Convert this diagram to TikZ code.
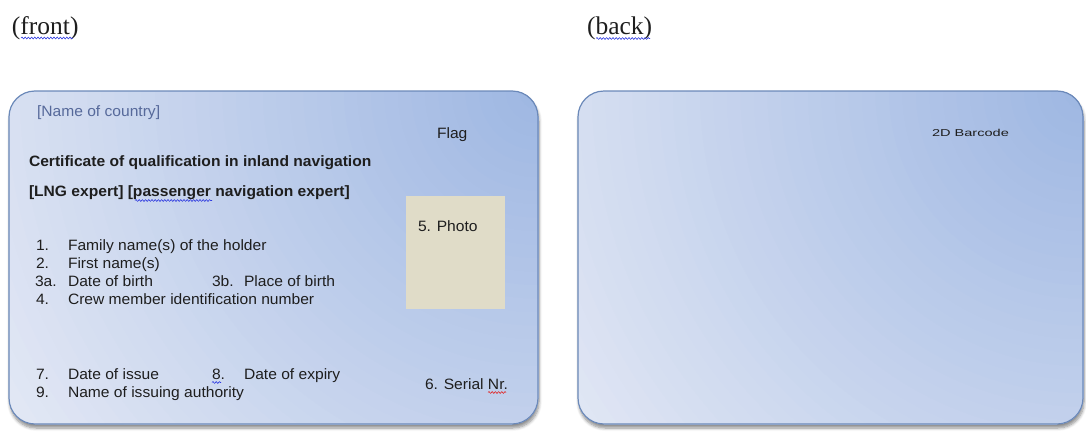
\documentclass[tikz,border=0pt]{standalone}
\usepackage{fontspec}
\usepackage{graphicx}
\setmainfont{Liberation Serif}
\newfontfamily\arial[FakeStretch=1.04]{Liberation Sans}
\usetikzlibrary{shadows.blur,decorations.pathmorphing}
\definecolor{cardborder}{HTML}{6B89B9}
\definecolor{cardin}{HTML}{9DB6E2}
\definecolor{cardout}{HTML}{E4E9F5}
\definecolor{photofill}{HTML}{E0DCC8}
\definecolor{txt}{HTML}{1E1E1E}
\definecolor{country}{HTML}{56699A}
\definecolor{squigblue}{HTML}{2F3BE0}
\definecolor{squigred}{HTML}{E02828}
\begin{document}
\begin{tikzpicture}[x=1pt,y=-1pt,
  every node/.style={inner sep=0pt, outer sep=0pt},
  body/.style={font=\arial\fontsize{15}{18}\selectfont, text=txt, anchor=base west},
  bodyb/.style={font=\arial\bfseries\fontsize{15}{18}\selectfont, text=txt, anchor=base west},
  title/.style={font=\fontsize{25.5}{30}\selectfont, text=txt, anchor=base west},
  squig/.style={decorate, decoration={snake, amplitude=0.9pt, segment length=3.2pt}, line width=0.6pt},
  card/.style={draw=cardborder, line width=1.2pt, rounded corners=26pt,
    minimum height=333pt, anchor=north west,
    blur shadow={shadow xshift=1pt, shadow yshift=-4pt, shadow blur steps=6, shadow blur radius=3pt, shadow opacity=45},
    path picture={
      \foreach \i in {0,...,49} {
        \pgfmathsetmacro\rr{680-13.5*\i}
        \pgfmathsetmacro\mm{max(0,min(100,100*(1-\rr/640)))}
        \fill[cardin!\mm!cardout] (path picture bounding box.north east) circle (\rr pt);
      }}},
]
\useasboundingbox (0,0) rectangle (1086,447);

% titles
\node[title] (fronttitle) at (12,34) {(front)};
\node[title] (backtitle) at (587,34) {(back)};
\draw[squig, squigblue] (21,38) -- (73,38);
\draw[squig, squigblue] (596,38.5) -- (650,38.5);

% cards
\node[card, minimum width=529pt] (front) at (9,91) {};
\node[card, minimum width=505pt] (back) at (578,91) {};

% photo
\node[fill=photofill, minimum width=99pt, minimum height=113pt, anchor=north west] (photo) at (406,196) {};

% front texts
\node[body, text=country] (country) at (37,116) {[Name of country]};
\node[body] (flag) at (437,138) {Flag};
\node[bodyb] (cert) at (29,166) {Certificate of qualification in inland navigation};
\node[bodyb] (expert) at (29,196.5) {[LNG expert] [passenger navigation expert]};
\draw[squig, squigblue] (135,200.5) -- (212,200.5);
\node[body] (photolbl) at (418,231) {5. Photo};

\node[body] (n1) at (36,250) {1.};
\node[body] (t1) at (68,250) {Family name(s) of the holder};
\node[body] (n2) at (36,268) {2.};
\node[body] (t2) at (68,268) {First name(s)};
\node[body] (n3a) at (35,286) {3a.};
\node[body] (t3a) at (68,286) {Date of birth};
\node[body] (n3b) at (212,286) {3b.};
\node[body] (t3b) at (244,286) {Place of birth};
\node[body] (n4) at (36,304) {4.};
\node[body] (t4) at (68,304) {Crew member identification number};

\node[body] (n7) at (36,379) {7.};
\node[body] (t7) at (68,379) {Date of issue};
\node[body] (n8) at (212,379) {8.};
\draw[squig, squigblue] (212,382.5) -- (221,382.5);
\node[body] (t8) at (244,379) {Date of expiry};
\node[body] (n9) at (36,397) {9.};
\node[body] (t9) at (68,397) {Name of issuing authority};

\node[body] (serial) at (425,389) {6. Serial Nr.};
\draw[squig, squigred] (488,392.5) -- (506,392.5);

% back text
\node[font=\arial\fontsize{10}{12}\selectfont, text=txt, anchor=base west] (barcode) at (932,136) {\scalebox{1.4}[1]{2D Barcode}};
\end{tikzpicture}
\end{document}
